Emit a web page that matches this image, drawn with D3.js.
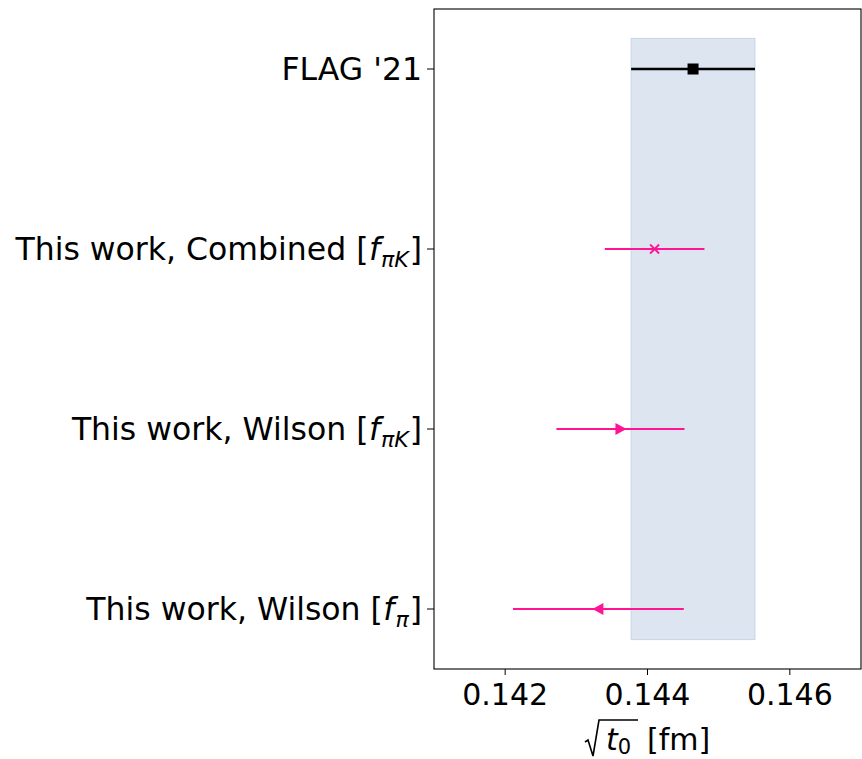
<!DOCTYPE html>
<html>
<head>
<meta charset="utf-8">
<script src="https://cdn.jsdelivr.net/npm/d3@7"></script>
<style>
  body { margin: 0; background: #fff; }
  svg text { font-family: "DejaVu Sans", sans-serif; fill: #000; }
</style>
</head>
<body>
<svg id="chart" width="862" height="759"></svg>
<script>
// data
const labelMain = ["FLAG '21", "This work, Combined ", "This work, Wilson ", "This work, Wilson "]
const labelSub = [null, "\u03c0K", "\u03c0K", "\u03c0"]
const values = [0.14464, 0.14410, 0.14362, 0.14331]
const errors = [0.00087, 0.00070, 0.00090, 0.00120]
const markers = ['square', 'x', 'tri-right', 'tri-left']
const colors = ['#000000', '#ff1493', '#ff1493', '#ff1493']
const xTicks = [0.142, 0.144, 0.146]

const svg = d3.select('#chart')

// 坐标区域
const axLeft = 434, axRight = 861, axTop = 9, axBottom = 669

const x = d3.scaleLinear().domain([0.141, 0.147]).range([axLeft, axRight])
const y = d3.scaleLinear().domain([-1 / 3, 3 + 1 / 3]).range([axTop, axBottom])

// FLAG band
const band = [values[0] - errors[0], values[0] + errors[0]]
svg.append('rect')
  .attr('x', x(band[0]))
  .attr('y', y(-0.17))
  .attr('width', x(band[1]) - x(band[0]))
  .attr('height', y(3.17) - y(-0.17))
  .attr('fill', 'rgb(221,229,240)')
  .attr('stroke', 'rgb(200,212,230)')
  .attr('stroke-width', 1)

// error bars
values.forEach((v, i) => {
  svg.append('line')
    .attr('x1', x(v - errors[i]))
    .attr('x2', x(v + errors[i]))
    .attr('y1', y(i))
    .attr('y2', y(i))
    .attr('stroke', colors[i])
    .attr('stroke-width', i === 0 ? 2.5 : 2.2)
})

// markers
values.forEach((v, i) => {
  let cx = x(v), cy = y(i)
  let g = svg.append('g').attr('transform', `translate(${cx},${cy})`)
  let m = markers[i]
  if (m === 'square') {
    g.append('rect').attr('x', -5.5).attr('y', -5.5).attr('width', 11).attr('height', 11)
      .attr('fill', colors[i])
  } else if (m === 'x') {
    let s = 4.5
    g.append('path').attr('d', `M${-s},${-s}L${s},${s}M${-s},${s}L${s},${-s}`)
      .attr('stroke', colors[i]).attr('stroke-width', 1.8)
  } else if (m === 'tri-right') {
    g.append('path').attr('d', 'M6,0L-5,-6L-5,6Z').attr('fill', colors[i])
  } else {
    g.append('path').attr('d', 'M-6,0L5,-6L5,6Z').attr('fill', colors[i])
  }
})

// 边框
svg.append('rect')
  .attr('x', axLeft).attr('y', axTop)
  .attr('width', axRight - axLeft).attr('height', axBottom - axTop)
  .attr('fill', 'none').attr('stroke', '#000').attr('stroke-width', 1.1)

// x axis
const xAxis = svg.append('g')
xTicks.forEach(t => {
  xAxis.append('line')
    .attr('x1', x(t)).attr('x2', x(t))
    .attr('y1', axBottom).attr('y2', axBottom + 6)
    .attr('stroke', '#000').attr('stroke-width', 1)
  xAxis.append('text')
    .attr('x', x(t)).attr('y', axBottom + 36)
    .attr('text-anchor', 'middle')
    .style('font-size', '30px')
    .text(d3.format('.3f')(t))
})

// y axis labels
labelMain.forEach((lab, i) => {
  svg.append('line')
    .attr('x1', axLeft - 7).attr('x2', axLeft)
    .attr('y1', y(i)).attr('y2', y(i))
    .attr('stroke', '#000').attr('stroke-width', 1)
  let t = svg.append('text')
    .attr('x', axLeft - 12).attr('y', y(i)).attr('dy', '0.36em')
    .attr('text-anchor', 'end')
    .style('font-size', '31.5px')
  t.append('tspan').text(lab)
  if (labelSub[i]) {
    t.append('tspan').text('[')
    t.append('tspan').attr('dx', 0.5).style('font-style', 'italic').text('f')
    t.append('tspan').attr('dx', 1).attr('dy', 7).style('font-size', '22px').style('font-style', 'italic').text(labelSub[i])
    t.append('tspan').attr('dx', 1).attr('dy', -7).text(']')
  }
})

// x label: sqrt(t0) [fm]
svg.append('path')
  .attr('d', 'M585,742L588,740L593,756L599,720L638,720')
  .attr('fill', 'none').attr('stroke', '#000').attr('stroke-width', 1.6)
let xl = svg.append('text').attr('x', 606).attr('y', 750).style('font-size', '30px')
xl.append('tspan').style('font-style', 'italic').text('t')
xl.append('tspan').attr('dy', 4).style('font-size', '21px').text('0')
svg.append('text').attr('x', 647).attr('y', 750).style('font-size', '30px').text('[fm]')
</script>
</body>
</html>
